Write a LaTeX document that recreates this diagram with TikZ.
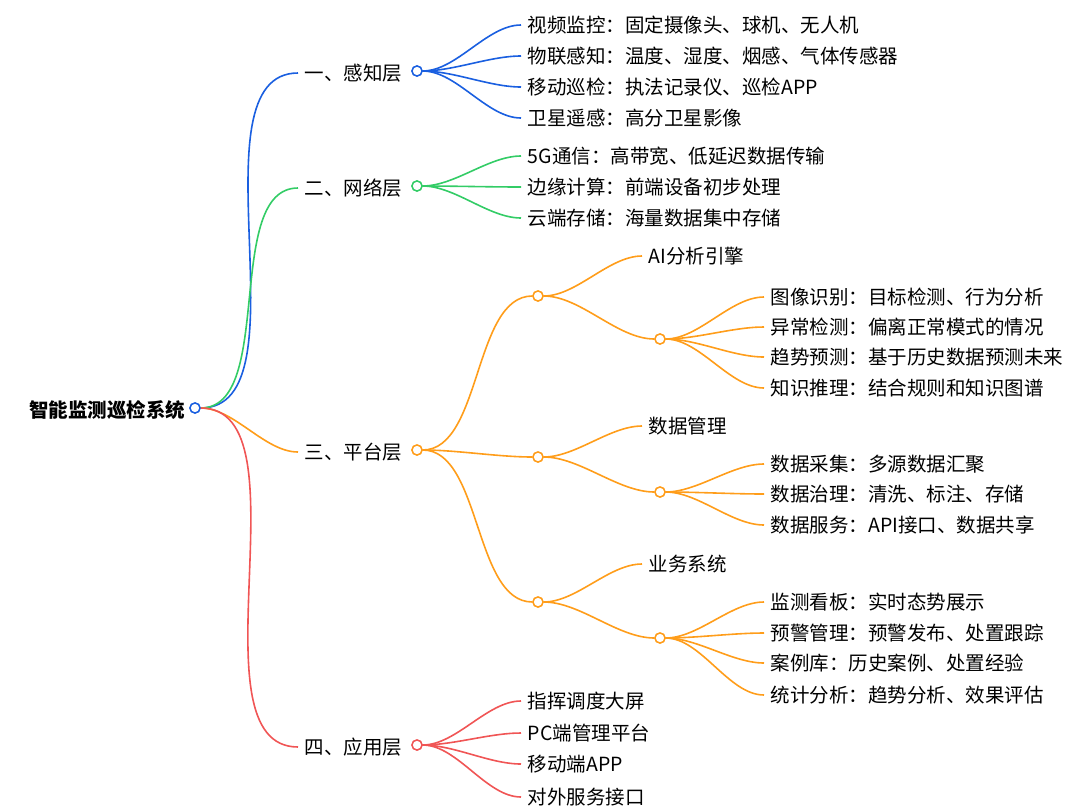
\documentclass[tikz,border=0pt]{standalone}
\usepackage{fontspec}
\setmainfont{Noto Sans CJK SC}
\usetikzlibrary{positioning}
\definecolor{cBlue}{HTML}{1A5FE0}
\definecolor{cGreen}{HTML}{33CC66}
\definecolor{cOrange}{HTML}{FF9D1A}
\definecolor{cRed}{HTML}{F05555}
\begin{document}
\begin{tikzpicture}[x=1pt,y=-1pt,line width=1.6pt,
  every node/.style={font=\fontsize{19.5}{22}\selectfont},
  dot/.style={draw, circle, fill=white, inner sep=0pt, minimum size=10pt, line width=1.4pt},
  txt/.style={anchor=west, inner ysep=0pt, inner xsep=6pt},
  br/.style={out=0, in=180, looseness=0.8}]
  \useasboundingbox (0,0) rectangle (1080,812);
  % root
  \node[dot,draw=cBlue] (root) at (195,408) {};
  \node[anchor=east, inner sep=0pt, font=\fontsize{19.5}{22}\selectfont\bfseries] (rootT) at (186,410) {智能监测巡检系统};
  % level one
  \node[dot,draw=cBlue]   (L1) at (417,71) {};
  \node[dot,draw=cGreen]  (L2) at (417,186) {};
  \node[dot,draw=cOrange] (L3) at (417,450) {};
  \node[dot,draw=cRed]    (L4) at (417,745) {};
  \node[txt] (L1t) at (298,73) {一、感知层};
  \node[txt] (L2t) at (298,188) {二、网络层};
  \node[txt] (L3t) at (298,452) {三、平台层};
  \node[txt] (L4t) at (298,747) {四、应用层};
  \draw[cBlue]   (root.east) to[br] (L1t.west);
  \draw[cGreen]  (root.east) to[br] (L2t.west);
  \draw[cOrange] (root.east) to[br] (L3t.west);
  \draw[cRed]    (root.east) to[br] (L4t.west);
  % perception
  \foreach \n/\y/\t in {a/25/视频监控：固定摄像头、球机、无人机, b/56/物联感知：温度、湿度、烟感、气体传感器,
      c/87/移动巡检：执法记录仪、巡检APP, d/118/卫星遥感：高分卫星影像}{
    \node[txt] (p\n) at (521,\y) {\t};
    \draw[cBlue] (L1.east) to[br] (p\n.west);
  }
  % network
  \foreach \n/\y/\t in {a/156/5G通信：高带宽、低延迟数据传输, b/187/边缘计算：前端设备初步处理, c/218/云端存储：海量数据集中存储}{
    \node[txt] (n\n) at (521,\y) {\t};
    \draw[cGreen] (L2.east) to[br] (n\n.west);
  }
  % platform
  \node[dot,draw=cOrange] (S1) at (538,296) {};
  \node[dot,draw=cOrange] (S2) at (538,457) {};
  \node[dot,draw=cOrange] (S3) at (538,602) {};
  \node[dot,draw=cOrange] (S1b) at (660,339) {};
  \node[dot,draw=cOrange] (S2b) at (660,492) {};
  \node[dot,draw=cOrange] (S3b) at (660,638) {};
  \node[txt] (S1t) at (642,256) {AI分析引擎};
  \node[txt] (S2t) at (642,426) {数据管理};
  \node[txt] (S3t) at (642,564) {业务系统};
  \foreach \s in {S1,S2,S3}{
    \draw[cOrange] (L3.east) to[br] (\s.west);
    \draw[cOrange] (\s.east) to[br] (\s t.west);
    \draw[cOrange] (\s.east) to[br] (\s b.west);
  }
  \foreach \n/\y/\t in {a/297/图像识别：目标检测、行为分析, b/327/异常检测：偏离正常模式的情况,
      c/357/趋势预测：基于历史数据预测未来, d/388/知识推理：结合规则和知识图谱}{
    \node[txt] (ai\n) at (764,\y) {\t};
    \draw[cOrange] (S1b.east) to[br] (ai\n.west);
  }
  \foreach \n/\y/\t in {a/464/数据采集：多源数据汇聚, b/494/数据治理：清洗、标注、存储, c/525/数据服务：API接口、数据共享}{
    \node[txt] (dm\n) at (764,\y) {\t};
    \draw[cOrange] (S2b.east) to[br] (dm\n.west);
  }
  \foreach \n/\y/\t in {a/602/监测看板：实时态势展示, b/633/预警管理：预警发布、处置跟踪,
      c/663/案例库：历史案例、处置经验, d/695/统计分析：趋势分析、效果评估}{
    \node[txt] (bs\n) at (764,\y) {\t};
    \draw[cOrange] (S3b.east) to[br] (bs\n.west);
  }
  % application
  \foreach \n/\y/\t in {a/701/指挥调度大屏, b/733/PC端管理平台, c/764/移动端APP, d/797/对外服务接口}{
    \node[txt] (ap\n) at (521,\y) {\t};
    \draw[cRed] (L4.east) to[br] (ap\n.west);
  }
  % redraw dots on top
  \foreach \d/\c in {root/cBlue,L1/cBlue,L2/cGreen,L3/cOrange,L4/cRed,S1/cOrange,S2/cOrange,S3/cOrange,S1b/cOrange,S2b/cOrange,S3b/cOrange}{
    \draw[\c, fill=white, line width=1.4pt] (\d) circle (5pt);
  }
\end{tikzpicture}
\end{document}
